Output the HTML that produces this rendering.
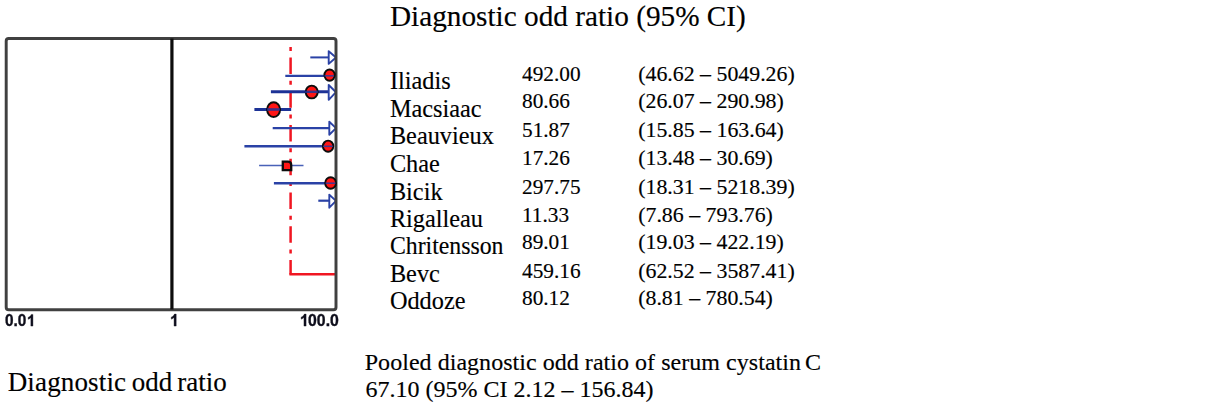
<!DOCTYPE html>
<html><head><meta charset="utf-8"><title>Forest plot</title>
<style>
html,body{margin:0;padding:0;background:#fff;}
body{width:1231px;height:406px;position:relative;overflow:hidden;font-family:"Liberation Serif",serif;color:#000;}
svg{position:absolute;left:0;top:0;display:block;}
text{font-family:"Liberation Serif",serif;fill:#000;white-space:pre;stroke:#000;stroke-width:0.15px;}
text.s,path.s{font-family:"Liberation Sans",sans-serif;font-weight:bold;fill:#10101c;stroke:#10101c;stroke-width:0.35px;}
path.s{stroke-width:45px;}
</style></head><body>
<svg width="1231" height="406" viewBox="0 0 1231 406">
<defs><filter id="b" x="-5%" y="-5%" width="110%" height="110%"><feGaussianBlur stdDeviation="0.5"/></filter></defs>
<g filter="url(#b)">
<!-- red pooled line -->
<g stroke="#f01822" stroke-width="2.5" fill="none">
<path d="M290.6 46.9V274.6" stroke-dasharray="4 6.55 16.5 6.7"/>
<path d="M289.4 274.2H335" stroke-width="2.5"/>
</g>
<!-- blue CI lines -->
<g stroke="#2c43a6" fill="none">
<path d="M310.3 57.4H329" stroke-width="2"/>
<path d="M285.3 75.8H334.5" stroke-width="2.3"/>
<path d="M270.9 91.8H329" stroke-width="3" stroke="#1f3296"/>
<path d="M254.4 109.5H291.2" stroke-width="3" stroke="#1f3296"/>
<path d="M272.7 128.1H329.5" stroke-width="2.4"/>
<path d="M244.4 146.3H333.5" stroke-width="2.4"/>
<path d="M259.1 165.5H303.5" stroke-width="1.5" stroke="#4a62b8"/>
<path d="M273.9 183.2H335" stroke-width="2.4"/>
<path d="M318.3 200.7H329.5" stroke-width="2.2"/>
</g>
<!-- arrows -->
<g stroke="#2c43a6" stroke-width="1.9" fill="#fff" stroke-linejoin="round">
<path d="M328.7 51.2V63.9L336 57.5Z"/>
<path d="M328.7 85.0V99.8L336 92.2Z"/>
<path d="M329.3 121.7V134.7L336 128.1Z"/>
<path d="M329.3 194.7V207.7L336 200.9Z"/>
</g>
<!-- frame -->
<rect x="6.2" y="38.4" width="329.8" height="271.4" rx="2.5" fill="none" stroke="#404040" stroke-width="2.95"/>
<path d="M171.9 38.4V309.6" stroke="#0c0c0c" stroke-width="3.2"/>
<!-- markers -->
<g stroke="#0a0a0a" stroke-width="1.9" fill="#ff1414">
<ellipse cx="329.6" cy="75.1" rx="5.2" ry="5.6"/>
<ellipse cx="311.7" cy="92" rx="6.0" ry="6.4"/>
<ellipse cx="273.6" cy="109.6" rx="6.5" ry="7.4"/>
<ellipse cx="328.1" cy="146.2" rx="5.2" ry="5.6"/>
<path d="M282.8 161.6H288Q291.2 161.6 291.2 165V170.2H282.8Z" stroke-width="2.3"/>
<ellipse cx="330.6" cy="183" rx="5.4" ry="5.8"/>
</g>
<!-- lines over markers -->
<g stroke="#2c3aa0" fill="none" stroke-opacity="0.85">
<path d="M324.5 75.8H334" stroke-width="1.6"/>
<path d="M305 91.8H318" stroke-width="2.4" stroke="#1f3296"/>
<path d="M267 109.5H280" stroke-width="2.6" stroke="#1f3296"/>
<path d="M323 146.3H333" stroke-width="1.6"/>
<path d="M325.5 183.2H335.5" stroke-width="1.6"/>
</g>
<text x="4.90" y="0" font-size="15.4" class="s" transform="translate(0,326.1) scale(1,1.06)">0.0</text>
<path class="s" d="M881 0H604V1057Q453 916 247 848V1099Q355 1134 482 1233Q609 1332 656 1466H881Z" transform="translate(26.31,326.1) scale(0.007520,-0.007971)"/>
<path class="s" d="M881 0H604V1057Q453 916 247 848V1099Q355 1134 482 1233Q609 1332 656 1466H881Z" transform="translate(169.40,326.1) scale(0.007715,-0.008178)"/>
<path class="s" d="M881 0H604V1057Q453 916 247 848V1099Q355 1134 482 1233Q609 1332 656 1466H881Z" transform="translate(299.30,326.1) scale(0.007715,-0.008178)"/>
<text x="308.08" y="0" font-size="15.8" class="s" transform="translate(0,326.1) scale(1,1.06)">00.0</text>
</g>
<g id="labels">
<text x="390.0" y="26.00" font-size="29.25">Diagnostic odd ratio (95% CI)</text>
<text x="389.9" y="88.70" font-size="24.3">Iliadis</text>
<text x="522.0" y="80.80" font-size="21.3">492.00</text>
<text x="638.2" y="80.80" font-size="21.85">(46.62 – 5049.26)</text>
<text x="389.9" y="116.70" font-size="24.3">Macsiaac</text>
<text x="522.0" y="108.30" font-size="21.3">80.66</text>
<text x="638.2" y="108.30" font-size="21.85">(26.07 – 290.98)</text>
<text x="389.9" y="144.00" font-size="24.3">Beauvieux</text>
<text x="522.0" y="136.50" font-size="21.3">51.87</text>
<text x="638.2" y="136.50" font-size="21.85">(15.85 – 163.64)</text>
<text x="389.9" y="172.00" font-size="24.3">Chae</text>
<text x="522.0" y="164.60" font-size="21.3">17.26</text>
<text x="638.2" y="164.60" font-size="21.85">(13.48 – 30.69)</text>
<text x="389.9" y="199.90" font-size="24.3">Bicik</text>
<text x="522.0" y="193.70" font-size="21.3">297.75</text>
<text x="638.2" y="193.70" font-size="21.85">(18.31 – 5218.39)</text>
<text x="389.9" y="227.10" font-size="24.3">Rigalleau</text>
<text x="522.0" y="221.60" font-size="21.3">11.33</text>
<text x="638.2" y="221.60" font-size="21.85">(7.86 – 793.76)</text>
<text x="389.9" y="254.00" font-size="24.3" textLength="113.6" lengthAdjust="spacingAndGlyphs">Chritensson</text>
<text x="522.0" y="249.40" font-size="21.3">89.01</text>
<text x="638.2" y="249.40" font-size="21.85">(19.03 – 422.19)</text>
<text x="389.9" y="282.30" font-size="24.3">Bevc</text>
<text x="522.0" y="277.50" font-size="21.3">459.16</text>
<text x="638.2" y="277.50" font-size="21.85">(62.52 – 3587.41)</text>
<text x="389.9" y="309.30" font-size="24.3">Oddoze</text>
<text x="522.0" y="304.80" font-size="21.3">80.12</text>
<text x="638.2" y="304.80" font-size="21.85">(8.81 – 780.54)</text>
<text x="364.7" y="369.60" font-size="24" textLength="436.3">Pooled diagnostic odd ratio of serum cystatin</text>
<text x="804.9" y="369.60" font-size="24">C</text>
<text x="365.6" y="396.90" font-size="24">67.10 (95% CI 2.12 – 156.84)</text>
<text x="7.7" y="390.90" font-size="27" textLength="118.4">Diagnostic</text>
<text x="131.7" y="390.90" font-size="27">odd</text>
<text x="177.3" y="390.90" font-size="27">ratio</text>
</g>
</svg>

</body></html>
